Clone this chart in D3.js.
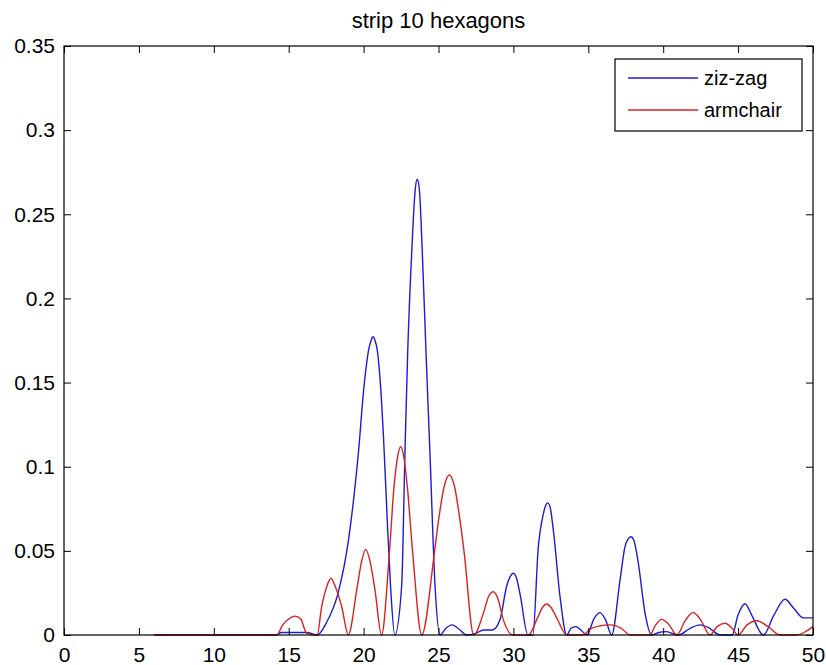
<!DOCTYPE html>
<html>
<head>
<meta charset="utf-8">
<script src="https://cdn.jsdelivr.net/npm/d3@7"></script>
<style>
  html, body { margin: 0; padding: 0; background: #fff; }
  svg { display: block; }
  text { font-family: "Liberation Sans", Arial, sans-serif; fill: #000; }
</style>
</head>
<body>
<svg id="chart" width="826" height="665"></svg>
<script>
// ---- data ----
const chartTitle = "strip 10 hexagons";
const seriesNames = ["ziz-zag", "armchair"];
const seriesColors = ["#1c1cd2", "#d82222"];

const xTicks = [0, 5, 10, 15, 20, 25, 30, 35, 40, 45, 50];
const xTickLabels = ["0", "5", "10", "15", "20", "25", "30", "35", "40", "45", "50"];
const yTicks = [0, 0.05, 0.1, 0.15, 0.2, 0.25, 0.3, 0.35];
const yTickLabels = ["0", "0.05", "0.1", "0.15", "0.2", "0.25", "0.3", "0.35"];

const zigzagX = [6, 14.2, 14.5, 16.2, 16.9, 17.5, 18.3, 19.0, 19.65, 20.03, 20.35, 20.5, 20.63, 20.76, 20.9, 21.14, 21.38, 21.58, 21.8, 22.08,
  22.54, 22.76, 22.94, 23.21, 23.45, 23.58, 23.72, 23.92, 24.17, 24.43, 24.77, 25.1, 25.5, 25.9, 26.3, 26.9, 27.5, 28.0, 28.6,
  29.1, 29.55, 29.8, 29.99, 30.2, 30.45, 30.97, 31.3, 31.66, 32.0, 32.15, 32.29, 32.45, 32.67, 33.11, 33.56, 33.85, 34.16, 34.5, 34.9,
  35.4, 35.78, 36.15, 36.56, 37.12, 37.45, 37.65, 37.85, 38.05, 38.34, 38.79, 39.23, 39.7, 40.2, 40.6, 41.0, 41.8, 42.46, 43.1, 43.8, 44.6,
  45.0, 45.46, 45.9, 46.68, 47.4, 48.13, 48.7, 49.35, 50];
const zigzagY = [0, 0, 0.0015, 0.0015, 0, 0.007, 0.025, 0.057, 0.108, 0.148, 0.170, 0.175, 0.1772, 0.175, 0.170, 0.147, 0.108, 0.068, 0.029, 0,
  0.029, 0.108, 0.167, 0.227, 0.265, 0.2708, 0.265, 0.227, 0.167, 0.108, 0.029, 0, 0.004, 0.006, 0.004, 0, 0.001, 0.003, 0.003,
  0.009, 0.029, 0.035, 0.0367, 0.034, 0.024, 0, 0, 0.052, 0.072, 0.077, 0.0785, 0.076, 0.062, 0.023, 0, 0.004, 0.005, 0.003, 0,
  0.01, 0.0133, 0.009, 0, 0.0327, 0.0525, 0.057, 0.0584, 0.056, 0.0426, 0.0129, 0, 0.0015, 0.002, 0.001, 0, 0.004, 0.006, 0.004, 0, 0,
  0.012, 0.0186, 0.012, 0, 0.012, 0.0212, 0.016, 0.0102, 0.0102];

const armchairX = [6, 14.2, 14.6, 15.0, 15.42, 15.8, 16.2, 16.9, 17.2, 17.55, 17.82, 18.1, 18.54, 18.98, 19.54, 19.85, 20.14, 20.45, 20.76, 21.2,
  21.72, 22.03, 22.25, 22.48, 22.7, 22.92, 23.28, 23.88, 24.72, 25.0, 25.4, 25.72, 26.05, 26.44, 26.72, 27.35, 28.0, 28.35, 28.66, 28.95, 29.33, 29.97,
  31.0, 31.6, 31.95, 32.22, 32.5, 32.9, 33.56, 34.6, 35.2, 35.8, 36.45, 37.2, 37.8, 39.1, 39.5, 39.9, 40.4, 40.9, 41.5, 42.0, 42.5, 43.12, 43.6, 44.13, 44.6, 45.0,
  45.6, 46.24, 47.0, 47.8, 48.9, 49.5, 50];
const armchairY = [0, 0, 0.006, 0.0095, 0.0112, 0.0095, 0.001, 0, 0.0168, 0.029, 0.0337, 0.029, 0.0168, 0, 0.0267, 0.043, 0.0509, 0.043, 0.0267, 0,
  0.0485, 0.088, 0.105, 0.1119, 0.105, 0.088, 0.0485, 0, 0.0485, 0.068, 0.089, 0.0951, 0.089, 0.068, 0.0485, 0, 0.013, 0.023, 0.0257, 0.022, 0.009, 0,
  0, 0.01, 0.0165, 0.0184, 0.0165, 0.01, 0, 0, 0.004, 0.0055, 0.006, 0.004, 0, 0, 0.006, 0.0093, 0.006, 0, 0.009, 0.0133, 0.009, 0, 0.005, 0.007, 0.004, 0,
  0.006, 0.0085, 0.005, 0, 0, 0.002, 0.005];

// ---- layout ----
const svg = d3.select("#chart");
const plotL = 64, plotR = 813, plotT = 46, plotB = 635;
const x = d3.scaleLinear().domain([0, 50]).range([plotL, plotR]);
const y = d3.scaleLinear().domain([0, 0.35]).range([plotB, plotT]);
const tickLen = 7;

const series = [
  { name: seriesNames[0], color: seriesColors[0], pts: zigzagX.map((v, i) => [v, zigzagY[i]]) },
  { name: seriesNames[1], color: seriesColors[1], pts: armchairX.map((v, i) => [v, armchairY[i]]) }
];

svg.append("rect").attr("x", plotL).attr("y", plotT).attr("width", plotR - plotL).attr("height", plotB - plotT)
  .attr("fill", "#fff");

const line = d3.line().x(d => x(d[0])).y(d => y(d[1])).curve(d3.curveMonotoneX);
svg.append("g").selectAll("path").data(series).join("path")
  .attr("d", d => line(d.pts))
  .attr("fill", "none")
  .attr("stroke", d => d.color)
  .attr("stroke-width", 1.4)
  .attr("stroke-linejoin", "round");

const fontSize = 21;
function styleAxis(g, showLabels) {
  g.select(".domain").remove();
  g.selectAll(".tick line").attr("stroke", "#000").attr("stroke-width", 1);
  g.selectAll(".tick text").attr("font-size", fontSize).attr("font-family", "Liberation Sans, Arial, sans-serif");
  if (!showLabels) g.selectAll(".tick text").remove();
}
const xFmt = (d) => xTickLabels[xTicks.indexOf(d)];
const yFmt = (d) => yTickLabels[yTicks.indexOf(d)];

svg.append("g").attr("transform", `translate(0,${plotB})`)
  .call(d3.axisBottom(x).tickValues(xTicks).tickFormat(xFmt).tickSize(-tickLen).tickPadding(12))
  .call(g => styleAxis(g, true));
svg.append("g").attr("transform", `translate(0,${plotT})`)
  .call(d3.axisTop(x).tickValues(xTicks).tickSize(-tickLen))
  .call(g => styleAxis(g, false));
svg.append("g").attr("transform", `translate(${plotL},0)`)
  .call(d3.axisLeft(y).tickValues(yTicks).tickFormat(yFmt).tickSize(-tickLen).tickPadding(9))
  .call(g => styleAxis(g, true));
svg.append("g").attr("transform", `translate(${plotR},0)`)
  .call(d3.axisRight(y).tickValues(yTicks).tickSize(-tickLen))
  .call(g => styleAxis(g, false));

svg.append("rect").attr("x", plotL).attr("y", plotT).attr("width", plotR - plotL).attr("height", plotB - plotT)
  .attr("fill", "none").attr("stroke", "#000").attr("stroke-width", 1.2);

svg.append("text").attr("x", (plotL + plotR) / 2).attr("y", 28)
  .attr("text-anchor", "middle").attr("font-size", 22).text(chartTitle);

const lg = svg.append("g");
lg.append("rect").attr("x", 615).attr("y", 59).attr("width", 187).attr("height", 72)
  .attr("fill", "#fff").attr("stroke", "#000").attr("stroke-width", 1.2);
series.forEach((s, i) => {
  const ly = 78 + i * 32;
  lg.append("line").attr("x1", 628).attr("x2", 698).attr("y1", ly).attr("y2", ly)
    .attr("stroke", s.color).attr("stroke-width", 1.4);
  lg.append("text").attr("x", 704).attr("y", ly).attr("dy", "0.35em")
    .attr("font-size", 20).text(s.name);
});
</script>
</body>
</html>
